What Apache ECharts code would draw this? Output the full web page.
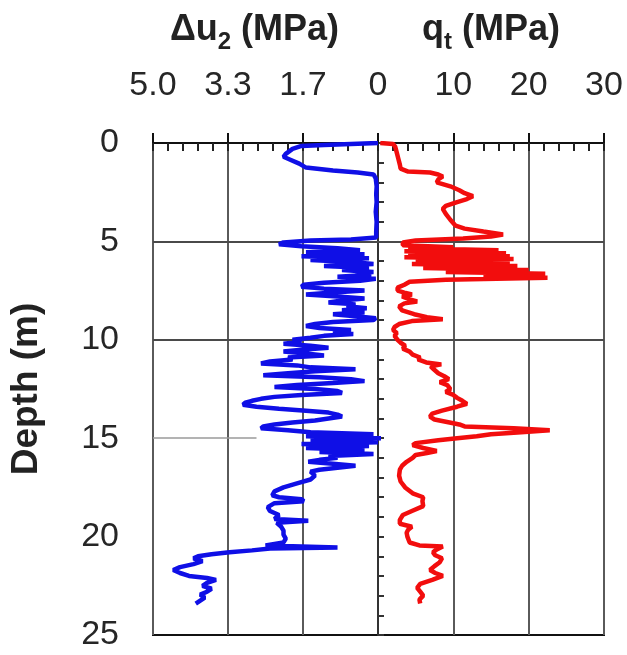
<!DOCTYPE html>
<html><head><meta charset="utf-8">
<script src="https://cdn.jsdelivr.net/npm/echarts@6/dist/echarts.min.js"></script>
<style>html,body{margin:0;padding:0;background:#fff}#c{width:627px;height:655px}</style>
</head><body><div id="c"></div>
<script>
// Depth tick labels (m)
const depthTicks = [0, 5, 10, 15, 20, 25];
// Excess pore pressure Δu2 profile (depth m, MPa)
const duDepth = [0,0.05,0.1,0.15,0.3,0.55,0.7,0.85,1.05,1.25,1.4,1.5,1.6,1.8,2.2,2.6,3,3.5,4,4.5,4.8,4.9,4.95,5.05,5.15,5.25,5.35,5.45,5.55,5.65,5.75,5.85,5.95,6.05,6.15,6.25,6.35,6.45,6.55,6.6,6.7,6.8,6.9,7,7.1,7.2,7.3,7.4,7.5,7.6,7.7,7.8,7.9,8,8.1,8.2,8.3,8.4,8.5,8.6,8.7,8.8,8.9,9,9.1,9.2,9.3,9.4,9.5,9.6,9.7,9.8,9.9,10,10.1,10.2,10.3,10.4,10.5,10.6,10.7,10.8,10.9,11,11.1,11.2,11.3,11.4,11.5,11.6,11.7,11.8,11.9,12,12.1,12.2,12.3,12.4,12.5,12.6,12.7,12.8,12.9,13,13.1,13.2,13.3,13.4,13.5,13.6,13.7,13.8,13.9,14,14.1,14.2,14.3,14.4,14.5,14.6,14.7,14.8,14.9,15,15.1,15.2,15.3,15.4,15.5,15.6,15.7,15.8,15.9,16,16.1,16.2,16.3,16.4,16.5,16.6,16.7,16.9,17.1,17.3,17.5,17.7,17.9,18,18.1,18.2,18.3,18.5,18.7,18.9,19.1,19.2,19.3,19.5,19.7,19.9,20.1,20.3,20.45,20.55,20.6,20.7,20.8,20.9,21,21.1,21.25,21.4,21.55,21.7,21.85,22,22.1,22.2,22.35,22.5,22.65,22.8,22.95,23.1,23.25,23.4];
const duValue = [0,0.6,1.2,1.7,1.9,2.05,2.1,1.95,1.75,1.6,1,0.45,0.1,0.05,0.03,0.04,0.03,0.05,0.03,0.04,0.04,0.6,1.5,2.1,2.2,1.7,0.9,0.4,1.6,0.3,1.7,0.2,1.5,0.6,0.1,1.2,0.2,0.8,0.1,0.5,0.15,0.9,0.05,0.4,1.2,1.65,1.7,1.2,0.3,1,1.6,0.9,0.3,0.8,1.1,0.5,0.7,0.25,0.8,0.3,1,0.5,0.05,0.1,1,1.4,1.6,1.3,0.6,1,0.55,1.2,1.5,1.9,1.7,2.1,1.5,1.1,1.7,2.1,1.6,1.2,2,1.9,2.4,2.6,1.8,1.5,0.5,1.4,2,2.55,1.3,0.6,0.3,1,1.8,2.3,1.4,0.9,0.8,1.7,2.3,2.6,2.8,2.95,3,2.7,2.2,1.6,1.1,0.9,0.8,0.78,1.4,1.9,2.3,2.55,2.6,2,1.5,0.1,1.6,-0.1,1.5,0,1.7,0.2,1.6,0.3,1.3,0.1,1.1,0.9,1.3,1.55,1,0.5,0.9,1.3,1.5,1.4,1.5,1.8,2.1,2.3,2.35,2.2,1.7,1.65,2.3,2.45,2.4,2.2,2.3,1.55,2.25,2.15,2.1,2.1,2.05,2.1,2.5,0.9,2.4,2.8,3.3,3.7,4,4.1,3.9,4.1,4.4,4.55,4.4,4.2,3.8,3.6,3.8,3.9,3.7,3.8,3.95,3.85,3.95,4.05];
// Cone resistance qt profile (depth m, MPa)
const qtDepth = [0,0.05,0.2,0.5,0.8,1.1,1.3,1.45,1.5,1.6,1.7,1.85,2,2.2,2.4,2.55,2.7,2.85,3,3.2,3.35,3.6,3.9,4.2,4.35,4.5,4.65,4.75,4.85,4.95,5.05,5.2,5.3,5.35,5.45,5.5,5.6,5.65,5.75,5.8,5.9,5.95,6.05,6.15,6.25,6.35,6.45,6.55,6.65,6.75,6.85,6.95,7.05,7.2,7.35,7.5,7.6,7.7,7.8,7.95,8.05,8.15,8.3,8.5,8.7,8.85,8.95,9.05,9.2,9.35,9.5,9.65,9.8,10,10.15,10.3,10.45,10.6,10.75,10.9,11,11.15,11.25,11.35,11.5,11.7,11.85,12,12.15,12.3,12.5,12.65,12.8,12.95,13.1,13.25,13.4,13.6,13.75,13.9,14.05,14.2,14.3,14.4,14.5,14.6,14.7,14.8,14.9,15,15.1,15.25,15.35,15.5,15.65,15.75,15.85,16,16.2,16.4,16.6,16.9,17.2,17.5,17.8,18,18.2,18.45,18.7,18.9,19.15,19.35,19.5,19.65,19.8,20,20.3,20.45,20.5,20.65,20.8,20.95,21.1,21.3,21.5,21.7,21.85,22,22.2,22.4,22.6,22.8,23,23.2,23.4];
const qtValue = [0.3,2,2.3,2.5,2.7,2.9,3,4,6.9,8,8.6,8,7.8,9.6,10.8,11.5,12.6,11.8,10.5,9,8.6,9,9.6,10.3,11.5,14,16.6,15,11.3,5,3.3,3.3,10,4,16,3.5,17,4,17.5,3.5,18,5,17.5,4.5,18.5,6,20,9,22.2,14,22.5,9,4.2,3.5,2.6,2.6,3.5,4.5,3.2,4.2,5.2,3.5,2.8,3.2,4.8,6.5,8.6,4.5,2.8,2.2,2,2.5,2.2,2.6,3,3.6,3.3,4.2,4.6,5.6,5.3,6.4,8.4,7,7.4,8,8.8,9.4,8.2,9.2,9.6,9,10,10.5,11.2,11.8,10.5,8.5,7.2,6.9,7.5,9.5,10.8,11.5,18,22.8,19,15,13.1,10.5,8,5,4.6,6,7.8,6.5,5,4.6,3.8,3.2,2.9,2.8,3,3.6,4.6,6,5.9,6,4.5,3.3,2.9,2.9,4.5,4,3.8,3.9,4.2,5.5,8.6,7.8,7.3,7.6,8.5,8.2,7.5,6.9,7.6,8.6,7.2,5.6,5.2,5.6,6,5.5,5.6];
// Top axis tick values
const duTicks = [5.0, 3.3, 1.7, 0];
const qtTicks = [0, 10, 20, 30];

const duData = duDepth.map((d, i) => [duValue[i], d]);
const qtData = qtDepth.map((d, i) => [qtValue[i], d]);

const FONT = 'Liberation Sans, Arial, sans-serif';
const gridLine = { show: true, lineStyle: { color: '#5a5a5a', width: 2 } };
const topLabel = { fontSize: 34, color: '#262626', fontFamily: FONT, margin: 40 };
const nameRich = {
  m: { fontSize: 36, fontWeight: 'bold', color: '#222', fontFamily: FONT },
  s: { fontSize: 24, fontWeight: 'bold', color: '#222', fontFamily: FONT, padding: [24, 0, 0, 0] }
};

const chart = echarts.init(document.getElementById('c'), null, { renderer: 'canvas' });
chart.setOption({
  animation: false,
  backgroundColor: '#fff',
  grid: [
    { left: 153, top: 143, width: 225, height: 492, show: true, borderColor: '#111', borderWidth: 2, backgroundColor: 'transparent' },
    { left: 378, top: 143, width: 226, height: 492, show: true, borderColor: '#111', borderWidth: 2, backgroundColor: 'transparent' }
  ],
  xAxis: [
    { gridIndex: 0, type: 'value', position: 'top', inverse: true, min: 0, max: 5, interval: 5 / 3,
      axisLine: { show: true, lineStyle: { color: '#111', width: 2 } },
      axisTick: { show: true, length: 10, lineStyle: { color: '#111', width: 2 } },
      axisLabel: Object.assign({}, topLabel, { formatter: v => (Math.abs(v) < 1e-9 ? '' : (Math.round(v * 10) / 10).toFixed(1)) }),
      splitLine: gridLine,
      name: '{m|Δu}{s|2}{m| (MPa)}', nameLocation: 'middle', nameGap: 89,
      nameTextStyle: { rich: nameRich, padding: [0, 22, 0, 0] } },
    { gridIndex: 1, type: 'value', position: 'top', min: 0, max: 30, interval: 10,
      axisLine: { show: true, lineStyle: { color: '#111', width: 2 } },
      axisTick: { show: true, length: 10, lineStyle: { color: '#111', width: 2 } },
      axisLabel: topLabel,
      splitLine: gridLine,
      name: '{m|q}{s|t}{m| (MPa)}', nameLocation: 'middle', nameGap: 89,
      nameTextStyle: { rich: nameRich } },
    { gridIndex: 0, type: 'value', position: 'top', inverse: true, min: 0, max: 5, interval: 1 / 3,
      axisLine: { show: false }, axisLabel: { show: false }, splitLine: { show: false },
      axisTick: { show: true, inside: true, length: 8, lineStyle: { color: '#222', width: 2 } } },
    { gridIndex: 1, type: 'value', position: 'top', min: 0, max: 30, interval: 2,
      axisLine: { show: false }, axisLabel: { show: false }, splitLine: { show: false },
      axisTick: { show: true, inside: true, length: 8, lineStyle: { color: '#222', width: 2 } } }
  ],
  yAxis: [
    { gridIndex: 0, type: 'value', inverse: true, min: 0, max: 25, interval: 5,
      axisLine: { show: true, lineStyle: { color: '#111', width: 2 } },
      axisTick: { show: true, inside: true, length: 5, lineStyle: { color: '#333' } },
      axisLabel: { fontSize: 34, color: '#262626', fontFamily: FONT, margin: 34 },
      splitLine: { show: false },
      name: 'Depth (m)', nameLocation: 'middle', nameGap: 108,
      nameTextStyle: { fontSize: 37, fontWeight: 'bold', color: '#222', fontFamily: FONT } },
    { gridIndex: 1, type: 'value', inverse: true, min: 0, max: 25, interval: 1, position: 'left',
      axisLine: { show: true, lineStyle: { color: '#333', width: 2 } },
      axisTick: { show: true, inside: true, length: 6, lineStyle: { color: '#333', width: 2 } },
      axisLabel: { show: false }, splitLine: { show: false } }
  ],
  series: [
    { type: 'line', xAxisIndex: 0, yAxisIndex: 0, data: [], silent: true,
      markLine: { silent: true, symbol: 'none', z: 1, label: { show: false },
        lineStyle: { color: '#4a4a4a', width: 2, type: 'solid' },
        data: [ { yAxis: 5 }, { yAxis: 10 },
          [ { coord: [5, 15], lineStyle: { color: '#9a9a9a', width: 1.5 } }, { coord: [2.7, 15] } ] ] } },
    { type: 'line', xAxisIndex: 1, yAxisIndex: 1, data: [], silent: true,
      markLine: { silent: true, symbol: 'none', z: 1, label: { show: false },
        lineStyle: { color: '#4a4a4a', width: 2, type: 'solid' },
        data: [ { yAxis: 5 }, { yAxis: 10 } ] } },
    { name: 'Δu2', type: 'line', xAxisIndex: 0, yAxisIndex: 0, data: duData, symbol: 'none', z: 3,
      lineStyle: { color: '#0f0fe6', width: 4.5 }, itemStyle: { color: '#0f0fe6' } },
    { name: 'qt', type: 'line', xAxisIndex: 1, yAxisIndex: 1, data: qtData, symbol: 'none', z: 3,
      lineStyle: { color: '#f20d0d', width: 4.5 }, itemStyle: { color: '#f20d0d' } }
  ]
});
</script>
</body></html>
